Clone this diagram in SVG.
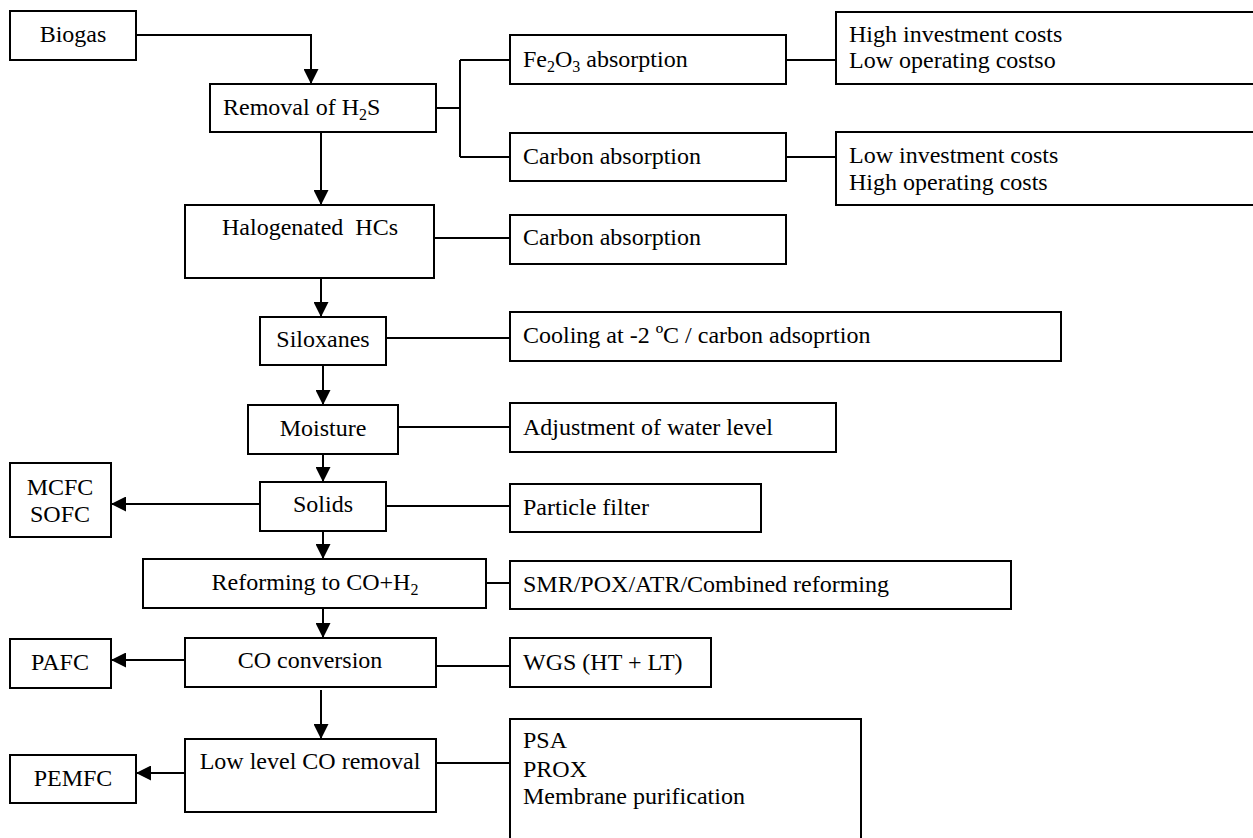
<svg xmlns="http://www.w3.org/2000/svg" width="1253" height="838" viewBox="0 0 1253 838">
<style>
.b{fill:#fff;stroke:#000;stroke-width:2}
.t{font-family:"Liberation Serif","Times New Roman",serif;font-size:24px;fill:#000}
.c{text-anchor:middle}
.l{fill:none;stroke:#000;stroke-width:2}
.a{marker-end:url(#ah)}
</style>
<defs>
<marker id="ah" markerUnits="userSpaceOnUse" markerWidth="15" markerHeight="15" refX="15" refY="7.5" orient="auto">
<path d="M0,0 L15,7.5 L0,15 z" fill="#000"/>
</marker>
</defs>
<rect width="1253" height="838" fill="#fff"/>
<g id="connectors">
<path class="l a" d="M136,35 H311 V84"/>
<path class="l a" d="M321,132 V205"/>
<path class="l" d="M436,108 H460 M460,60 V157 M460,60 H510 M460,157 H510"/>
<path class="l" d="M786,60 H836"/>
<path class="l" d="M786,157 H836"/>
<path class="l" d="M434,238 H510"/>
<path class="l a" d="M321,278 V317"/>
<path class="l" d="M386,338 H510"/>
<path class="l a" d="M323,365 V405"/>
<path class="l" d="M398,427 H510"/>
<path class="l a" d="M323,454 V482"/>
<path class="l" d="M386,506 H510"/>
<path class="l a" d="M260,504 H111"/>
<path class="l a" d="M323,531 V559"/>
<path class="l" d="M486,583 H510"/>
<path class="l a" d="M323,608 V638"/>
<path class="l" d="M436,666 H510"/>
<path class="l a" d="M185,660 H111"/>
<path class="l a" d="M321,690 V739"/>
<path class="l" d="M436,763 H510"/>
<path class="l a" d="M185,773 H136"/>
</g>
<g id="biogas"><rect class="b" x="10" y="11" width="126" height="49"/><text class="t c" x="73" y="42">Biogas</text></g>
<g id="removal"><rect class="b" x="210" y="84" width="226" height="48"/><text class="t" x="223" y="115">Removal of H<tspan font-size="16" dy="5">2</tspan><tspan dy="-5">S</tspan></text></g>
<g id="fe2o3"><rect class="b" x="510" y="35" width="276" height="49"/><text class="t" x="523" y="67">Fe<tspan font-size="16" dy="5">2</tspan><tspan dy="-5">O</tspan><tspan font-size="16" dy="5">3</tspan><tspan dy="-5"> absorption</tspan></text></g>
<g id="high-inv"><rect class="b" x="836" y="12" width="430" height="72"/><text class="t" x="849" y="42">High investment costs</text><text class="t" x="849" y="68">Low operating costso</text></g>
<g id="carbon1"><rect class="b" x="510" y="133" width="276" height="48"/><text class="t" x="523" y="164">Carbon absorption</text></g>
<g id="low-inv"><rect class="b" x="836" y="132" width="430" height="73"/><text class="t" x="849" y="163">Low investment costs</text><text class="t" x="849" y="190">High operating costs</text></g>
<g id="halogenated"><rect class="b" x="185" y="205" width="249" height="73"/><text class="t c" x="310" y="235" xml:space="preserve">Halogenated  HCs</text></g>
<g id="carbon2"><rect class="b" x="510" y="215" width="276" height="49"/><text class="t" x="523" y="245">Carbon absorption</text></g>
<g id="siloxanes"><rect class="b" x="260" y="317" width="126" height="48"/><text class="t c" x="323" y="347">Siloxanes</text></g>
<g id="cooling"><rect class="b" x="510" y="312" width="551" height="49"/><text class="t" x="523" y="343">Cooling at -2 ºC / carbon adsoprtion</text></g>
<g id="moisture"><rect class="b" x="248" y="405" width="150" height="49"/><text class="t c" x="323" y="436">Moisture</text></g>
<g id="adjustment"><rect class="b" x="510" y="403" width="326" height="49"/><text class="t" x="523" y="435">Adjustment of water level</text></g>
<g id="solids"><rect class="b" x="260" y="482" width="126" height="49"/><text class="t c" x="323" y="512">Solids</text></g>
<g id="particle"><rect class="b" x="510" y="484" width="251" height="48"/><text class="t" x="523" y="515">Particle filter</text></g>
<g id="mcfc"><rect class="b" x="10" y="463" width="101" height="74"/><text class="t c" x="60" y="495">MCFC</text><text class="t c" x="60" y="522">SOFC</text></g>
<g id="reforming"><rect class="b" x="143" y="559" width="343" height="49"/><text class="t c" x="315" y="590">Reforming to CO+H<tspan font-size="16" dy="5">2</tspan></text></g>
<g id="smr"><rect class="b" x="510" y="561" width="501" height="48"/><text class="t" x="523" y="592">SMR/POX/ATR/Combined reforming</text></g>
<g id="pafc"><rect class="b" x="10" y="639" width="101" height="49"/><text class="t c" x="60" y="670">PAFC</text></g>
<g id="co-conv"><rect class="b" x="185" y="638" width="251" height="49"/><text class="t c" x="310" y="668">CO conversion</text></g>
<g id="wgs"><rect class="b" x="510" y="638" width="201" height="49"/><text class="t" x="523" y="670">WGS (HT + LT)</text></g>
<g id="low-level"><rect class="b" x="185" y="739" width="251" height="73"/><text class="t c" x="310" y="769">Low level CO removal</text></g>
<g id="pemfc"><rect class="b" x="10" y="755" width="126" height="48"/><text class="t c" x="73" y="786">PEMFC</text></g>
<g id="psa"><rect class="b" x="510" y="719" width="351" height="140"/><text class="t" x="523" y="748">PSA</text><text class="t" x="523" y="777">PROX</text><text class="t" x="523" y="804">Membrane purification</text></g>
</svg>
